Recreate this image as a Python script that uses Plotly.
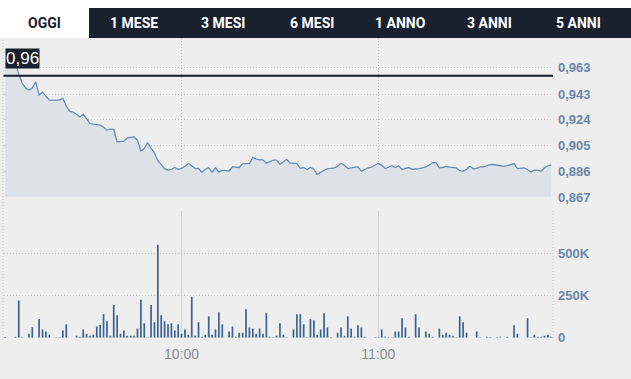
import plotly.graph_objects as go
import pandas as pd

# ---------------- data ----------------
skipped_minutes = ["10:23", "10:41"]
all_minutes = pd.date_range("2024-01-01 09:08", "2024-01-01 11:51", freq="min").strftime("%H:%M").tolist()
times = [t for t in all_minutes if t not in skipped_minutes]

price = [
    0.9652, 0.9660, 0.9667, 0.9667, 0.9578, 0.9512, 0.9475, 0.9460, 0.9475, 0.9521,
    0.9423, 0.9445, 0.9415, 0.9386, 0.9386, 0.9386, 0.9386, 0.9398, 0.9341, 0.9304,
    0.9297, 0.9282, 0.9262, 0.9282, 0.9245, 0.9213, 0.9208, 0.9204, 0.9201, 0.9186,
    0.9164, 0.9171, 0.9171, 0.9077, 0.9077, 0.9082, 0.9107, 0.9108, 0.9114, 0.9090,
    0.9010, 0.9028, 0.9073, 0.9030, 0.8997, 0.8938, 0.8905, 0.8879, 0.8868, 0.8875,
    0.8888, 0.8875, 0.8882, 0.8897, 0.8919, 0.8897, 0.8880, 0.8882, 0.8853, 0.8875,
    0.8886, 0.8853, 0.8886, 0.8853, 0.8868, 0.8865, 0.8862, 0.8892, 0.8890, 0.8888,
    0.8917, 0.8917, 0.8917, 0.8962, 0.8950, 0.8945, 0.8945, 0.8919, 0.8931, 0.8942,
    0.8942, 0.8912, 0.8931, 0.8947, 0.8922, 0.8919, 0.8916, 0.8882, 0.8888, 0.8873,
    0.8890, 0.8875, 0.8836, 0.8853, 0.8868, 0.8880, 0.8882, 0.8885, 0.8897, 0.8919,
    0.8905, 0.8880, 0.8886, 0.8890, 0.8892, 0.8860, 0.8875, 0.8886, 0.8890, 0.8905,
    0.8919, 0.8905, 0.8880, 0.8890, 0.8902, 0.8888, 0.8899, 0.8875, 0.8882, 0.8888,
    0.8875, 0.8875, 0.8880, 0.8886, 0.8892, 0.8905, 0.8923, 0.8923, 0.8886, 0.8888,
    0.8897, 0.8890, 0.8885, 0.8885, 0.8864, 0.8860, 0.8875, 0.8897, 0.8879, 0.8882,
    0.8892, 0.8892, 0.8901, 0.8910, 0.8910, 0.8906, 0.8897, 0.8897, 0.8901, 0.8910,
    0.8917, 0.8880, 0.8882, 0.8885, 0.8871, 0.8855, 0.8868, 0.8869, 0.8860, 0.8886,
    0.8901, 0.8908,
]

volume = [
    4000, 0, 0, 6000, 220000, 3000, 0, 24000, 62000, 0,
    111000, 48000, 36000, 18000, 0, 3000, 3000, 42000, 79000, 0,
    0, 12000, 6000, 48000, 24000, 12000, 18000, 67000, 75000, 139000,
    97000, 12000, 194000, 133000, 24000, 42000, 12000, 12000, 12000, 54000,
    224000, 85000, 3000, 194000, 91000, 550000, 133000, 97000, 79000, 85000,
    42000, 79000, 24000, 48000, 18000, 242000, 12000, 91000, 6000, 18000,
    127000, 18000, 48000, 151000, 79000, 0, 36000, 67000, 6000, 30000,
    30000, 169000, 60000, 54000, 24000, 54000, 24000, 145000, 6000, 3000,
    12000, 85000, 18000, 3000, 0, 48000, 139000, 139000, 79000, 3000,
    109000, 103000, 18000, 48000, 145000, 60000, 3000, 0, 30000, 60000,
    12000, 127000, 54000, 6000, 73000, 60000, 6000, 0, 0, 3000,
    3000, 48000, 6000, 3000, 3000, 36000, 36000, 115000, 60000, 6000,
    0, 139000, 60000, 0, 36000, 24000, 6000, 0, 54000, 18000,
    30000, 18000, 12000, 3000, 127000, 91000, 30000, 0, 0, 36000,
    3000, 0, 6000, 3000, 0, 3000, 6000, 0, 6000, 0,
    73000, 24000, 0, 0, 115000, 3000, 18000, 6000, 6000, 12000,
    18000, 6000,
]

prev_close = 0.9566
price_ticks = [0.867, 0.886, 0.905, 0.924, 0.943, 0.963]
price_range = [0.867, 0.9845]
volume_ticks = [0, 250000, 500000, 750000]
volume_tick_text = ["0", "250K", "500K", ""]
volume_range = [0, 750000]
time_ticks = ["10:00", "11:00"]
tabs = ["OGGI", "1 MESE", "3 MESI", "6 MESI", "1 ANNO", "3 ANNI", "5 ANNI"]

# ---------------- layout helpers ----------------
W, H = 631, 379
def fx(p):
    return p / W
def fy(p):
    return 1 - p / H

LINE = "#6a8cb6"
FILL = "#dde2e8"
BAR = "#3a6291"
GRID = "#c6c6c6"
LABEL = "#6b87aa"
DARK = "#19212f"
FONT = "Liberation Sans, Arial, sans-serif"

fig = go.Figure()
fig.add_trace(go.Scatter(
    x=times, y=price, mode="lines", line=dict(color=LINE, width=1.3),
    fill="tozeroy", fillcolor=FILL, xaxis="x", yaxis="y", hoverinfo="skip",
))
fig.add_trace(go.Bar(
    x=times, y=volume, marker=dict(color=BAR, line=dict(width=0)),
    xaxis="x2", yaxis="y2", hoverinfo="skip",
))

xdom = [fx(3.5), fx(553)]
n = len(times)
fig.update_layout(
    width=W, height=H, autosize=False,
    margin=dict(l=0, r=0, t=0, b=0, pad=0, autoexpand=False),
    paper_bgcolor="white", plot_bgcolor="rgba(0,0,0,0)",
    showlegend=False, hovermode=False, bargap=0.5,
    separators=",.",
    font=dict(family=FONT),
    xaxis=dict(
        domain=xdom, anchor="y", type="category", range=[-0.5, n - 0.5], automargin=False,
        tickvals=time_ticks, showticklabels=False, ticks="",
        showgrid=True, gridcolor=GRID, griddash="1px,2px", gridwidth=1,
        zeroline=False, showline=False, fixedrange=True,
    ),
    xaxis2=dict(
        domain=xdom, anchor="y2", type="category", matches="x", range=[-0.5, n - 0.5], automargin=False,
        tickvals=time_ticks, showticklabels=True, ticks="",
        tickfont=dict(size=14, color="#8c8c8c", family=FONT), ticklabelstandoff=6,
        showgrid=True, gridcolor="#d2d2d2", gridwidth=1,
        zeroline=False, showline=False, fixedrange=True,
    ),
    yaxis=dict(
        domain=[fy(197), fy(38)], anchor="x", side="right", range=price_range, automargin=False,
        tickvals=price_ticks, tickformat=".3f", ticks="",
        tickfont=dict(size=13, color=LABEL, family=FONT, weight="bold"), ticklabelstandoff=4,
        showgrid=True, gridcolor=GRID, griddash="1px,2px", gridwidth=1,
        zeroline=False, showline=False, fixedrange=True,
    ),
    yaxis2=dict(
        domain=[fy(337.7), fy(211)], anchor="x2", side="right", range=volume_range, automargin=False,
        tickvals=volume_ticks, ticktext=volume_tick_text, ticks="",
        tickfont=dict(size=13, color=LABEL, family=FONT, weight="bold"), ticklabelstandoff=4,
        showgrid=True, gridcolor=GRID, griddash="1px,2px", gridwidth=1,
        zeroline=False, showline=False, fixedrange=True,
    ),
)

shapes = [
    # grey chart background
    dict(type="rect", xref="paper", yref="paper", x0=0, x1=1, y0=0, y1=fy(38),
         fillcolor="#eeeeee", line=dict(width=0), layer="below"),
    # dark tab bar
    dict(type="rect", xref="paper", yref="paper", x0=fx(89), x1=1, y0=fy(38), y1=fy(8),
         fillcolor=DARK, line=dict(width=0), layer="below"),
    # left border dotted
    dict(type="line", xref="paper", yref="paper", x0=fx(3), x1=fx(3), y0=fy(338), y1=fy(38),
         line=dict(color=GRID, width=1, dash="1px,2px"), layer="below"),
    # right border dotted (volume pane)
    dict(type="line", xref="paper", yref="paper", x0=fx(553), x1=fx(553), y0=fy(338), y1=fy(211),
         line=dict(color=GRID, width=1, dash="1px,2px"), layer="below"),
    # previous close line
    dict(type="line", xref="x domain", yref="y", x0=0, x1=1, y0=prev_close, y1=prev_close,
         line=dict(color="#141c29", width=2)),
]
fig.update_layout(shapes=shapes)

annotations = [
    dict(text=f"{prev_close:.2f}".replace(".", ","), xref="x domain", yref="y", x=0, y=prev_close,
         xanchor="left", yanchor="bottom", xshift=1.5, yshift=7, showarrow=False,
         bgcolor="#17202e", borderpad=0, font=dict(size=17, color="white", family=FONT)),
]
for k, label in enumerate(tabs):
    annotations.append(dict(
        text=label, xref="paper", yref="paper", x=fx(44.5 + 89 * k), y=fy(23),
        xanchor="center", yanchor="middle", showarrow=False,
        font=dict(size=14, color=DARK if k == 0 else "white", family="Roboto, sans-serif", weight="bold"),
    ))
fig.update_layout(annotations=annotations)

fig.write_html("out.html", config={"displayModeBar": False, "staticPlot": True},
               post_script="document.body.style.margin='0';document.body.style.overflow='hidden';")
